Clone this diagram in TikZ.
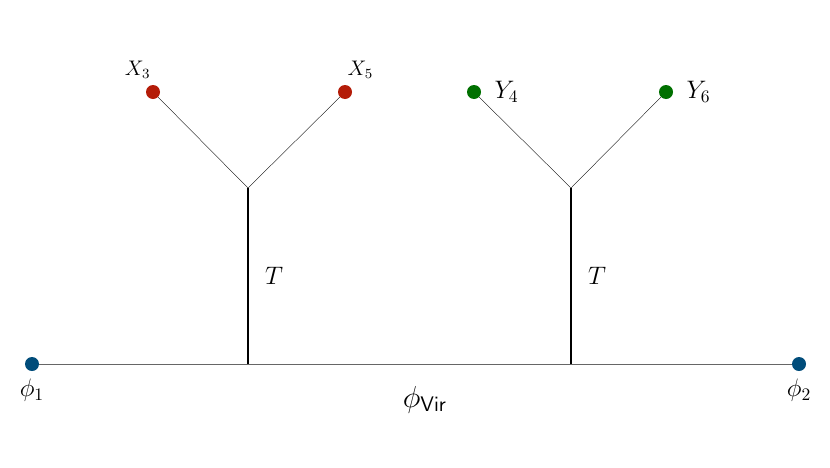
\documentclass[tikz,border=0pt]{standalone}
\usepackage{tikz}
\usetikzlibrary{positioning}
\definecolor{dotred}{RGB}{180,28,8}
\definecolor{dotgreen}{RGB}{0,112,0}
\definecolor{dotblue}{RGB}{0,76,122}
\tikzset{dot/.style={circle,fill,inner sep=0pt,minimum size=2.8mm}}
\begin{document}
\begin{tikzpicture}
  \useasboundingbox (0,0) rectangle (16.6,9.34);
  \node[dot,dotblue] (p1) at (0.64,2.06) {};
  \node[dot,dotblue] (p2) at (15.98,2.06) {};
  \coordinate (b1) at (4.96,2.06);
  \coordinate (t1) at (4.96,5.58);
  \coordinate (b2) at (11.42,2.06);
  \coordinate (t2) at (11.42,5.58);
  \node[dot,dotred] (x3) at (3.06,7.5) {};
  \node[dot,dotred] (x5) at (6.9,7.5) {};
  \node[dot,dotgreen] (y4) at (9.48,7.5) {};
  \node[dot,dotgreen] (y6) at (13.32,7.5) {};
  \draw[gray!80!black,thin] (p1) -- (p2);
  \draw[thick] (b1) -- node[right=6pt] {\Large$T$} (t1);
  \draw[thick] (b2) -- node[right=6pt] {\Large$T$} (t2);
  \draw[very thin] (t1) -- (x3);
  \draw[very thin] (t1) -- (x5);
  \draw[very thin] (t2) -- (y4);
  \draw[very thin] (t2) -- (y6);
  \node[above left=1pt and -5pt of x3] {\large$X_3$};
  \node[above right=1pt and -5pt of x5] {\large$X_5$};
  \node[right=4pt of y4] {\Large$Y_4$};
  \node[right=4pt of y6] {\Large$Y_6$};
  \node[below=1pt of p1] {\Large$\phi_1$};
  \node[below=1pt of p2] {\Large$\phi_2$};
  \node (vir) at (8.5,1.35) {\LARGE$\phi_{\mathsf{Vir}}$};
\end{tikzpicture}
\end{document}
